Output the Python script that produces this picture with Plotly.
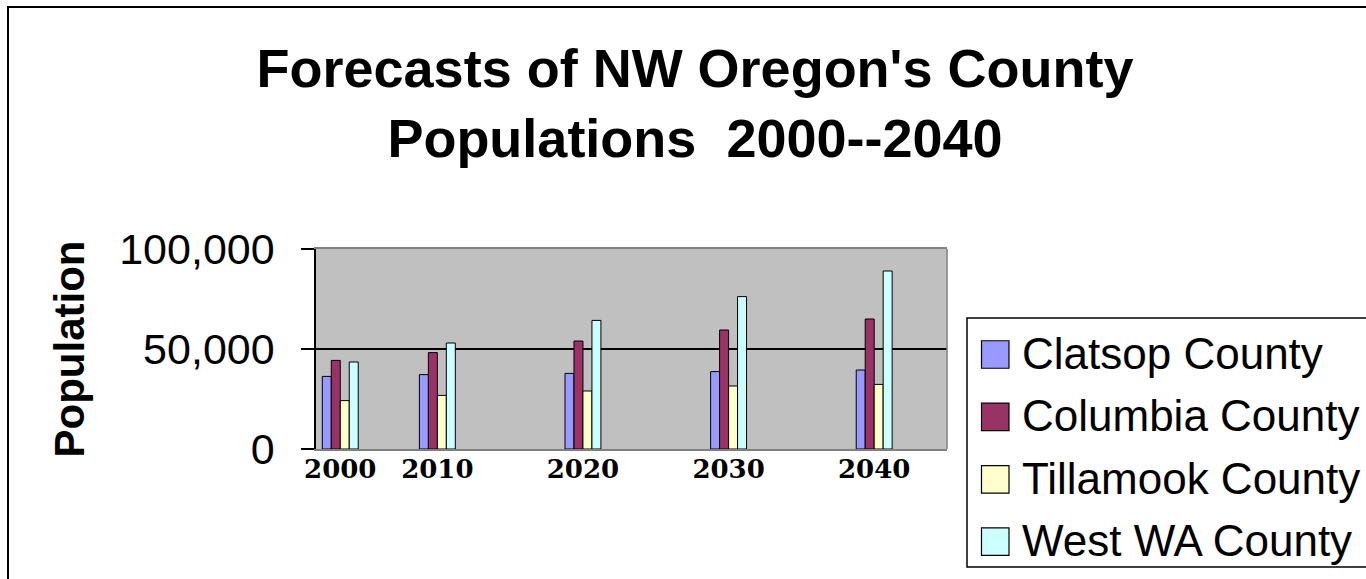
import plotly.graph_objects as go

# ---- data ----
year_labels = ["2000", "2010", "2020", "2030", "2040"]
# slot index of each year on the chart's horizontal scale (the original sheet spaced them unevenly)
year_slots = [0, 2, 5, 8, 11]
series_names = ["Clatsop County", "Columbia County", "Tillamook County", "West WA County"]
clatsop = [36300, 37200, 37800, 38700, 39500]
columbia = [44300, 48200, 54000, 59500, 65000]
tillamook = [24200, 26800, 29000, 31500, 32300]
west_wa = [43500, 53000, 64300, 76200, 89000]
y_ticks = [0, 50000, 100000]
y_tick_text = ["0", "50,000", "100,000"]

series_values = [clatsop, columbia, tillamook, west_wa]
colors = ["#9999FF", "#993366", "#FFFFCC", "#CCFFFF"]

W, H = 1366, 579
L, R, T, B = 316, 1366 - 947, 249, 579 - 449
pw, ph = W - L - R, H - T - B


def px(xp):
    return (xp - L) / pw


def py(yp):
    return (H - B - yp) / ph


fig = go.Figure()
for i, (name, vals) in enumerate(zip(series_names, series_values)):
    fig.add_trace(go.Bar(
        x=year_slots, y=vals, name=name, showlegend=False,
        marker=dict(color=colors[i], line=dict(color="black", width=1)),
    ))

shapes = [
    # right edge of the plot area
    dict(type="line", xref="paper", yref="paper", x0=1, x1=1, y0=0, y1=1,
         line=dict(color="#808080", width=1.5)),
    # outer chart border
    dict(type="rect", xref="paper", yref="paper", x0=px(8), x1=px(1369), y0=py(7), y1=py(582),
         line=dict(color="black", width=2), fillcolor="rgba(0,0,0,0)"),
    # legend box
    dict(type="rect", xref="paper", yref="paper", x0=px(967), x1=px(1369), y0=py(318), y1=py(567),
         line=dict(color="black", width=1.5), fillcolor="white", layer="below"),
]
annotations = []

# legend entries (large swatches like the original spreadsheet chart)
row0, row_step, sw = 354.5, 62.4, 27.5
for i, name in enumerate(series_names):
    cy = row0 + i * row_step
    shapes.append(dict(
        type="rect", xref="paper", yref="paper",
        x0=px(981.5), x1=px(981.5 + sw), y0=py(cy - sw / 2), y1=py(cy + sw / 2),
        fillcolor=colors[i], line=dict(color="black", width=1.2),
    ))
    annotations.append(dict(
        text=name, xref="paper", yref="paper", x=px(1020), y=py(cy - 1),
        xanchor="left", yanchor="middle", showarrow=False,
        font=dict(family="Liberation Sans, Arial, sans-serif", size=44, color="black"),
    ))

fig.update_layout(
    width=W, height=H,
    margin=dict(l=L, r=R, t=T, b=B, autoexpand=False),
    paper_bgcolor="white", plot_bgcolor="#C0C0C0",
    barmode="group", bargap=0.63, bargroupgap=0,
    font=dict(family="Liberation Sans, Arial, sans-serif", color="black"),
    title=dict(
        text="Forecasts of NW Oregon's County<br>Populations  2000--2040",
        font=dict(family="Liberation Sans, Arial, sans-serif", size=54, color="black", weight="bold"),
        x=695 / W, xref="container", xanchor="center",
        y=1 - 87 / H, yref="container", yanchor="top",
    ),
    showlegend=False,
    xaxis=dict(
        range=[-0.5, 12.5], tickmode="array", tickvals=year_slots, ticktext=year_labels,
        showgrid=False, zeroline=False, ticks="",
        showline=True, linecolor="#808080", linewidth=1.5, mirror=True,
        ticklabelstandoff=-4,
        tickfont=dict(family="DejaVu Serif, serif", size=26, color="black", weight="bold"),
    ),
    yaxis=dict(
        range=[0, 100000], tickmode="array", tickvals=y_ticks, ticktext=y_tick_text,
        showgrid=True, gridcolor="black", gridwidth=1.5, zeroline=False,
        showline=True, linecolor="black", linewidth=1.5,
        ticks="outside", ticklen=13, tickcolor="black", tickwidth=1.5,
        ticklabelstandoff=18,
        tickfont=dict(size=43, color="black"),
        title=dict(text="Population", font=dict(size=42, color="black", weight="bold"), standoff=22),
    ),
    shapes=shapes,
    annotations=annotations,
)

fig.write_html("out.html")
